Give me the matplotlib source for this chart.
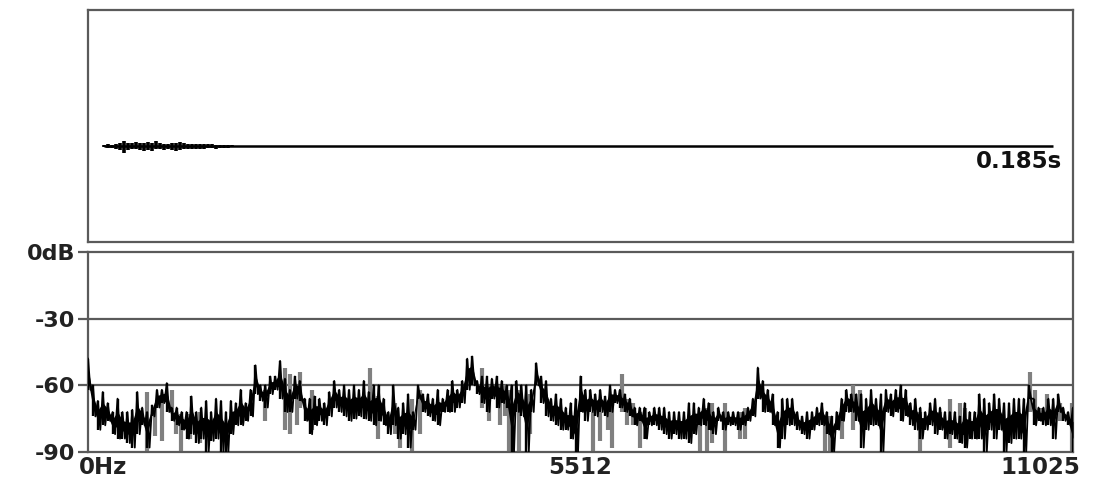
import numpy as np
import matplotlib
matplotlib.use("Agg")
import matplotlib.pyplot as plt

MAX_HZ = 11025
DURATION = 0.185
DB_TICKS = [0, -30, -60, -90]
DB_LABELS = ["0dB", "-30", "-60", "-90"]
FREQ_LABELS = ["0Hz", "5512", "11025"]

spec_hi = [
-48,-60,-67,-63,-68,-72,-66,-72,-72,-71,-63,-70,-72,-69,-62,-62,-59,-70,-70,
-72,-72,-65,-72,-70,-67,-72,-66,-67,-72,-67,-68,-62,-68,-62,-51,-60,-60,
-56,-56,-49,-57,-62,-56,-58,-66,-66,-65,-66,-68,-63,-58,-62,-60,-62,-60,-62,-58,
-63,-60,-60,-66,-72,-60,-70,-68,-64,-72,-60,-64,-64,-66,-62,-66,-62,-58,-62,
-58,-48,-47,-58,-56,-56,-57,-56,-58,-60,-60,-58,-60,-60,-62,-50,-56,-58,-66,-64,-66,-70,
-68,-66,-56,-62,-62,-64,-62,-65,-60,-62,-62,-64,-66,-70,-70,-70,-72,-70,-70,-70,-72,
-72,-72,-72,-68,-68,-70,-66,-68,-72,-70,-72,-72,-72,-72,-72,-70,-66,-52,-58,-62,
-64,-72,-66,-66,-66,-72,-74,-72,-72,-70,-68,-72,-74,-72,-66,-62,-64,-64,-64,-66,
-62,-66,-64,-62,-64,-62,-60,-62,-68,-66,-70,-72,-68,-66,-70,-72,-72,-72,-74,-68,-72,
-72,-64,-66,-68,-64,-66,-68,-68,-66,-66,-66,-60,-66,-70,-70,-66,-66,-64,-70,-72,-70]
spec_lo = [
-62,-74,-80,-78,-76,-82,-84,-84,-86,-88,-82,-78,-88,-74,-70,-68,-72,-76,-78,
-80,-84,-82,-86,-84,-90,-85,-84,-90,-90,-82,-78,-78,-76,-74,-64,-67,-70,
-64,-62,-66,-72,-72,-66,-67,-76,-82,-78,-76,-78,-74,-70,-72,-74,-76,-75,-74,-75,
-76,-78,-76,-78,-82,-78,-84,-82,-88,-80,-66,-72,-74,-76,-78,-72,-72,-72,-70,
-68,-62,-60,-64,-68,-72,-66,-70,-68,-70,-90,-72,-74,-90,-72,-60,-68,-74,-76,-78,-80,-80,
-84,-90,-72,-76,-72,-74,-72,-74,-72,-68,-70,-72,-74,-78,-76,-84,-78,-78,-80,-82,-84,
-82,-84,-84,-86,-82,-78,-78,-80,-82,-76,-80,-78,-78,-80,-78,-76,-74,-66,-72,-72,
-78,-88,-84,-78,-78,-80,-82,-84,-80,-78,-78,-82,-90,-80,-76,-72,-72,-76,-88,-80,
-78,-78,-90,-72,-74,-72,-76,-74,-78,-80,-84,-80,-78,-82,-80,-84,-82,-84,-86,-88,-84,
-84,-84,-90,-80,-84,-80,-90,-86,-84,-84,-90,-66,-78,-76,-78,-78,-84,-72,-76,-78,-90]

gray_hz = [660,750,828,940,985,1041,1142,1254,1981,2205,2261,2339,2373,2507,3156,3246,
3436,3492,3626,3716,4410,4488,4611,4667,4712,4824,4947,5652,5731,5820,5865,5977,
6033,6100,6178,6234,6850,6928,6984,7130,7298,7354,8249,8305,8439,8562,8640,9311,
9535,9647,9759,9815,10543,10599,10655,10733,10878,11013]
gray_hi = [-63,-70,-65,-62,-72,-73,-73,-72,-62,-52,-55,-62,-54,-62,-52,-65,
-68,-75,-66,-62,-52,-60,-60,-60,-62,-62,-64,-72,-72,-68,-66,-55,
-66,-68,-72,-70,-72,-70,-68,-68,-72,-70,-74,-74,-70,-60,-62,-72,
-72,-66,-68,-70,-54,-62,-70,-64,-68,-68]
gray_lo = [-90,-83,-85,-72,-82,-90,-84,-86,-76,-80,-82,-78,-70,-80,-70,-84,
-82,-88,-90,-82,-70,-76,-78,-74,-90,-90,-82,-90,-85,-80,-88,-72,
-78,-78,-88,-84,-90,-90,-86,-90,-84,-84,-90,-90,-84,-80,-74,-90,
-80,-88,-86,-80,-72,-74,-76,-78,-76,-90]

wave_up = [1,2,1,2,3,5,3,3,4,3,3,4,3,5,3,2,2,3,3,4,3,2,2,2,2,2,2,2,1,1,1,1,1]
wave_dn = [1,2,2,3,4,7,4,3,3,4,5,4,5,3,3,4,3,4,5,4,3,3,3,3,3,3,2,2,3,2,2,2,1]
WAVE_STEP_S = 0.00078

plt.rcParams["font.family"] = ["DejaVu Sans"]
W, H = 1095, 479
fig = plt.figure(figsize=(W / 100, H / 100), dpi=100)
FRAME = "#5a5a5a"
L, R = 88, 1073


def place(top, bottom):
    return [L / W, 1 - bottom / H, (R - L) / W, (bottom - top) / H]


ax_t = fig.add_axes(place(10, 242))
ax_s = fig.add_axes(place(252, 452))
for ax in (ax_t, ax_s):
    for sp in ax.spines.values():
        sp.set_color(FRAME)
        sp.set_linewidth(1.6)

# Waveform
pad_l = 16 / 949 * DURATION
pad_r = 20 / 949 * DURATION
ax_t.set_xlim(-pad_l, DURATION + pad_r)
ax_t.set_ylim(-96, 136)
ax_t.set_xticks([])
ax_t.set_yticks([])
ax_t.plot([0, DURATION], [0, 0], color="black", lw=1.8, solid_capstyle="butt")
t = np.arange(len(wave_up)) * WAVE_STEP_S
ax_t.vlines(t, -np.array(wave_dn), wave_up, color="black", lw=2.6)
ax_t.annotate("0.185s", xy=(DURATION, 0), xytext=(9, -15), textcoords="offset pixels",
              ha="right", va="center", fontsize=16.5, fontweight="bold", color="#111111",
              annotation_clip=False)

# Spectrum
ax_s.set_xlim(0, MAX_HZ)
ax_s.set_ylim(-90, 0)
ax_s.axhline(-30, color=FRAME, lw=1.6, zorder=1)
ax_s.axhline(-60, color=FRAME, lw=1.6, zorder=1)
ax_s.vlines(gray_hz, gray_lo, gray_hi, color="#808080", lw=3, zorder=2)

hz = np.linspace(0, MAX_HZ, len(spec_hi))
step = hz[1] - hz[0]
hi = np.array(spec_hi, dtype=float)
lo = np.array(spec_lo, dtype=float)
ax_s.vlines(hz, lo, hi, color="black", lw=1.7, zorder=3)
zig_x = np.column_stack([hz, hz + step * 0.5]).ravel()
zig_y = np.column_stack([hi, lo]).ravel()
ax_s.plot(np.clip(zig_x, 0, MAX_HZ), zig_y, color="black", lw=1.3, zorder=3)
ax_s.fill_between(hz, hi * 0.68 + lo * 0.32, hi * 0.3 + lo * 0.7, color="black", lw=0, zorder=3)

ax_s.set_yticks(DB_TICKS, DB_LABELS, fontsize=16, fontweight="bold", color="#222222")
ax_s.tick_params(axis="y", length=7.2, width=1.6, color=FRAME, pad=2)
ax_s.set_xticks([])

freq_pos = [(0, "left", -9), (MAX_HZ / 2, "center", 0), (MAX_HZ, "right", 7)]
for (pos, ha, dx), lab in zip(freq_pos, FREQ_LABELS):
    ax_s.annotate(lab, xy=(pos, -90), xytext=(dx, -15), textcoords="offset pixels",
                  ha=ha, va="center", fontsize=16.5, fontweight="bold", color="#222222",
                  annotation_clip=False)

fig.savefig("out.png", dpi=100)
